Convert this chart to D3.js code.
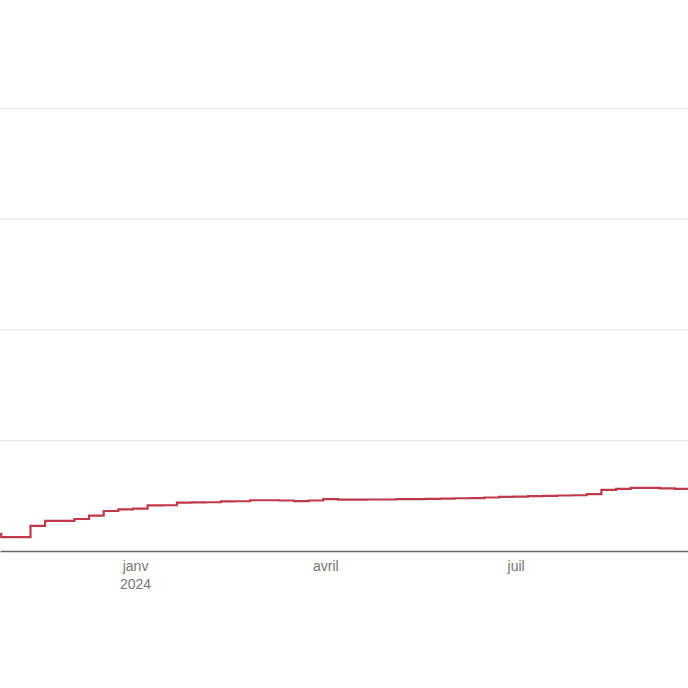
<!DOCTYPE html>
<html>
<head>
<meta charset="utf-8">
<script src="https://cdn.jsdelivr.net/npm/d3@7"></script>
<style>
  body { margin: 0; background: #fff; }
  svg { display: block; font-family: Roboto, "Noto Sans", sans-serif; }
</style>
</head>
<body>
<div class="chart"></div>
<script>
// weekly readings (week starting on sunday)
const weekDates = [
  "2023-10-22", "2023-10-29", "2023-11-05", "2023-11-12", "2023-11-19", "2023-11-26",
  "2023-12-03", "2023-12-10", "2023-12-17", "2023-12-24", "2023-12-31", "2024-01-07",
  "2024-01-14", "2024-01-21", "2024-01-28", "2024-02-04", "2024-02-11", "2024-02-18",
  "2024-02-25", "2024-03-03", "2024-03-10", "2024-03-17", "2024-03-24", "2024-03-31",
  "2024-04-07", "2024-04-14", "2024-04-21", "2024-04-28", "2024-05-05", "2024-05-12",
  "2024-05-19", "2024-05-26", "2024-06-02", "2024-06-09", "2024-06-16", "2024-06-23",
  "2024-06-30", "2024-07-07", "2024-07-14", "2024-07-21", "2024-07-28", "2024-08-04",
  "2024-08-11", "2024-08-18", "2024-08-25", "2024-09-01", "2024-09-08", "2024-09-15",
  "2024-09-22"
];
const weekValues = [
  15.3, 12.6, 12.6, 22.6, 27.1, 27.1,
  28.9, 32.0, 36.1, 37.5, 38.2, 41.1,
  41.3, 43.6, 43.8, 44.0, 44.7, 44.9,
  45.8, 45.8, 45.6, 45.1, 45.6, 46.9,
  46.3, 46.3, 46.5, 46.5, 46.9, 46.9,
  47.1, 47.3, 47.6, 47.8, 48.3, 48.9,
  49.1, 49.6, 49.8, 50.1, 50.3, 51.4,
  55.1, 56.0, 57.0, 56.9, 56.6, 56.0,
  56.0
];
const yTicks = [0, 100, 200, 300, 400, 500];
const xTickDates = ["2024-01-01", "2024-04-01", "2024-07-01"];
const xTickLabels = [["janv", "2024"], ["avril"], ["juil"]];
const xStart = "2023-10-28T10:00", xEnd = "2024-09-21T10:00";

const parseDay = d3.utcParse("%Y-%m-%d");
const parseTime = d3.utcParse("%Y-%m-%dT%H:%M");
const data = weekDates.map((d, i) => ({date: parseDay(d), value: weekValues[i]}));

const W = 688, H = 688;
const margin = {top: 0, right: 0, bottom: 137, left: 0};
const width = W - margin.left - margin.right,
      height = H - margin.top - margin.bottom;

const svg = d3.select(".chart")
  .append("svg")
  .attr("width", W)
  .attr("height", H)
  .append("g")
  .attr("transform", `translate(${margin.left},${margin.top})`);

const xScale = d3.scaleUtc()
  .domain([parseTime(xStart), parseTime(xEnd)])
  .range([0, width]);
const yScale = d3.scaleLinear()
  .domain([0, 500])
  .range([height, -3]);

// gridlines
svg.append("g")
  .attr("class", "grid")
  .call(d3.axisLeft(yScale).tickValues(yTicks.slice(1)).tickSize(-width).tickFormat(""))
  .call(g => g.select(".domain").remove())
  .call(g => g.selectAll("line").attr("stroke", "#e4e4e4").attr("stroke-width", 1));

svg.append("clipPath").attr("id", "clip")
  .append("rect").attr("width", width).attr("height", height + 5).attr("y", -5);

const line = d3.line()
  .curve(d3.curveStepAfter)
  .x(d => xScale(d.date))
  .y(d => yScale(d.value));

svg.append("path")
  .datum(data)
  .attr("clip-path", "url(#clip)")
  .attr("fill", "none")
  .attr("stroke", "#c0394a")
  .attr("stroke-width", 2.2)
  .attr("d", line);

// x axis
const xAxis = svg.append("g")
  .attr("class", "x-axis")
  .attr("transform", `translate(0,${height})`)
  .call(d3.axisBottom(xScale)
    .tickValues(xTickDates.map(parseDay))
    .tickSize(0).tickSizeOuter(0)
    .tickFormat(""));
xAxis.select(".domain").attr("stroke", "#666").attr("stroke-width", 1.4);
xAxis.selectAll(".tick text").each(function(d, i) {
  const t = d3.select(this).attr("y", 0).attr("dy", null)
    .attr("fill", "#757575").attr("font-size", 14);
  xTickLabels[i].forEach((s, j) => {
    t.append("tspan").attr("x", 0).attr("y", 20 + j * 18).text(s);
  });
});
</script>
</body>
</html>
